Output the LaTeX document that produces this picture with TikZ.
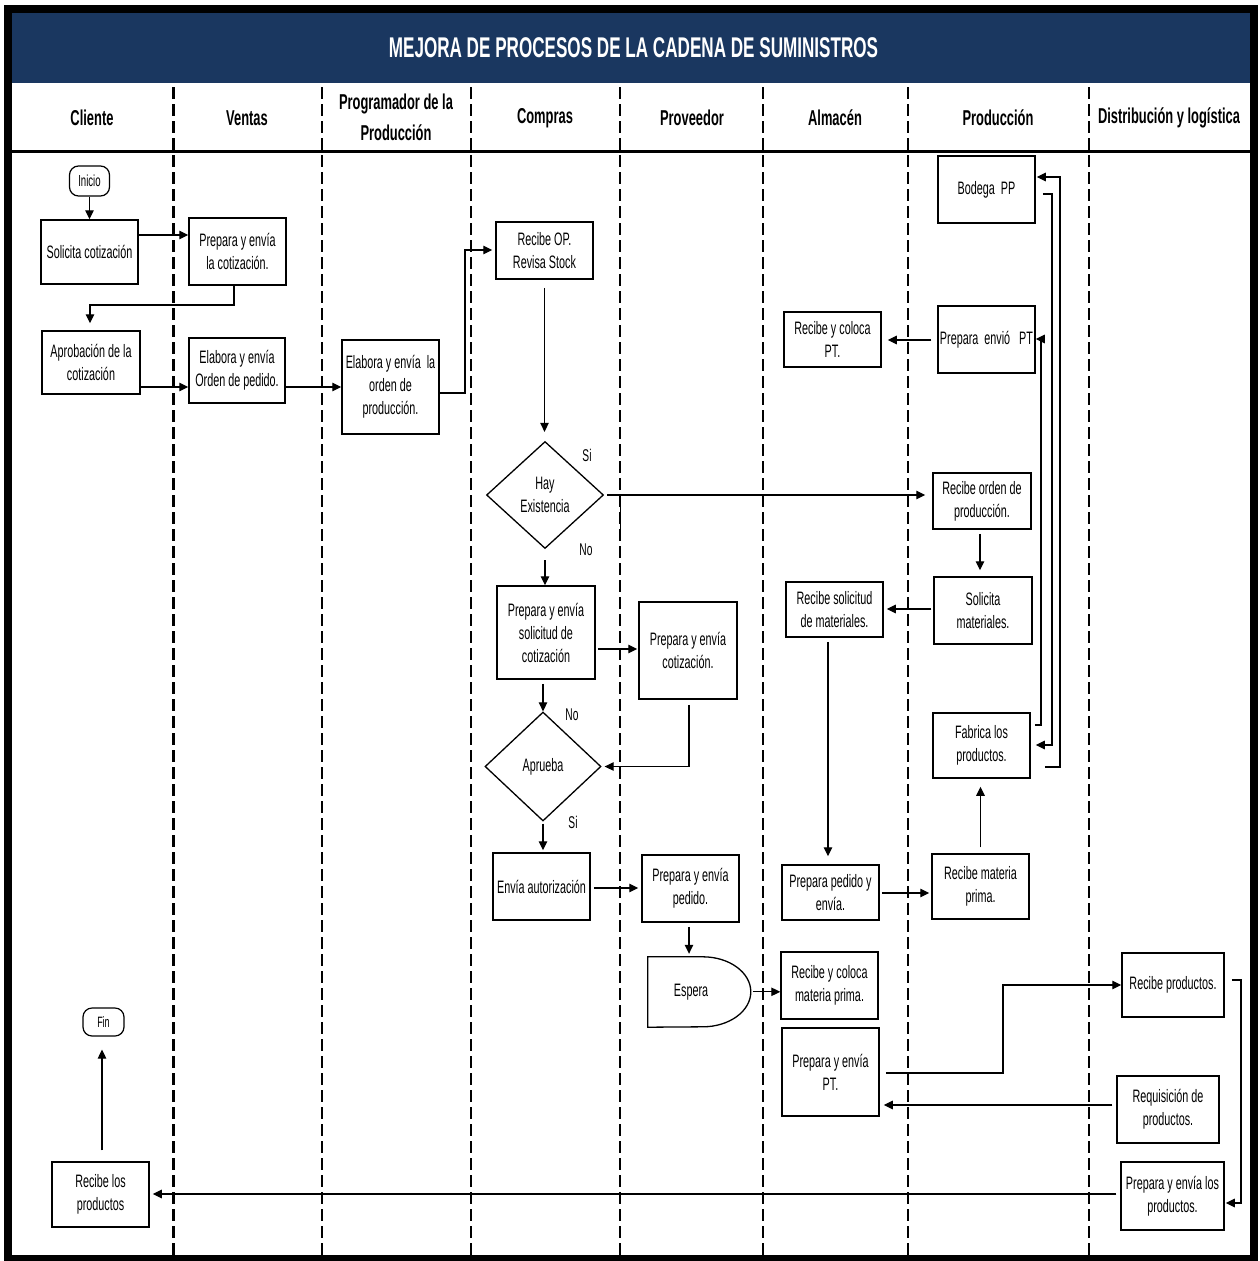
\documentclass[tikz,border=0pt]{standalone}
\usepackage{fontspec}
\newfontfamily\narrowsf{Liberation Sans}[FakeStretch=0.6]
\usetikzlibrary{arrows.meta,shapes.geometric,calc}
\definecolor{bandnavy}{HTML}{1A3760}
\newcommand\boxtxt{\narrowsf\fontsize{18}{23}\selectfont}
\newcommand\headtxt{\narrowsf\bfseries\fontsize{21.5}{31}\selectfont}

\begin{document}
\begin{tikzpicture}[x=1pt,y=-1pt,
  every node/.style={font=\boxtxt, align=center, inner sep=1pt},
  box/.style={draw, line width=1.5pt, minimum width=97pt},
  decision/.style={draw, diamond, line width=1.3pt, inner sep=0pt, aspect=1.08},
  terminal/.style={draw, rounded corners=9pt, line width=1.2pt, inner sep=0pt},
  lbl/.style={font=\narrowsf\fontsize{17}{20}\selectfont},
  conn/.style={line width=1.2pt},
  arr/.style={line width=1.2pt, -{Triangle[length=9pt,width=8.5pt]}},
  lane/.style={line width=2.4pt, dash pattern=on 12pt off 5pt},
]
\useasboundingbox (0,0) rectangle (1259,1261);
\fill[white] (0,0) rectangle (1259,1261);

% title band and header row
\fill[bandnavy] (12,12) rectangle (1250,83);
\node[text=white, font=\narrowsf\bfseries\fontsize{28.5}{32}\selectfont] (title) at (633.5,48)
  {MEJORA DE PROCESOS DE LA CADENA DE SUMINISTROS};
\draw[line width=3pt] (12,151.5) -- (1250,151.5);

% swimlane dividers
\foreach \lx in {173.5,322,471,620,763,908,1089}
  \draw[lane] (\lx,87) -- (\lx,1257);
\draw[line width=1pt] (620,505) -- (620,540);

% lane titles
\node[font=\headtxt] (hCliente) at (92,118) {Cliente};
\node[font=\headtxt] (hVentas) at (247,118) {Ventas};
\node[font=\headtxt] (hProg) at (396,117.5) {Programador de la\\Producción};
\node[font=\headtxt] (hCompras) at (545,118) {Compras};
\node[font=\headtxt] (hProv) at (692,118) {Proveedor};
\node[font=\headtxt] (hAlm) at (835,118) {Almacén};
\node[font=\headtxt] (hProd) at (998,118) {Producción};
\node[font=\headtxt] (hDist) at (1169,118) {Distribución y logística};

% Cliente
\node[terminal, minimum width=40pt, minimum height=30pt, font=\narrowsf\fontsize{16}{18}\selectfont] (inicio) at (89.5,181) {Inicio};
\node[box, minimum height=64pt] (solcot) at (89.5,252) {Solicita cotización};
\node[box, minimum width=98pt, minimum height=63pt] (aprob) at (91,362.5) {Aprobación de la\\cotización};
\node[terminal, minimum width=41pt, minimum height=28pt, font=\narrowsf\fontsize{15}{17}\selectfont] (fin) at (103.5,1022) {Fin};
\node[box, minimum height=65pt] (reclos) at (100.5,1194.5) {Recibe los\\productos};

% Ventas
\node[box, minimum height=67pt] (prepcot) at (237.5,251.5) {Prepara y envía\\la cotización.};
\node[box, minimum width=96pt, minimum height=65pt] (elabop) at (237,370.5) {Elabora y envía\\Orden de pedido.};

% Programador de la produccion
\node[box, minimum height=94pt] (elabprod) at (390.5,387) {Elabora y envía~ la\\orden de\\producción.};

% Compras
\node[box, minimum height=57pt] (recop) at (544.5,250.5) {Recibe OP.\\Revisa Stock};
\node[decision, minimum width=117pt, minimum height=107pt] (hay) at (545,495) {Hay\\Existencia};
\node[box, minimum width=98pt, minimum height=93pt] (solic) at (546,632.5) {Prepara y envía\\solicitud de\\cotización};
\node[decision, minimum width=116pt, minimum height=109pt] (aprueba) at (543,766.5) {Aprueba};
\node[box, minimum height=67pt] (envaut) at (541.5,886.5) {Envía autorización};
\node[lbl] (siA) at (587,455) {Si};
\node[lbl] (noA) at (586,550) {No};
\node[lbl] (noB) at (572,715) {No};
\node[lbl] (siB) at (573,822) {Si};

% Proveedor
\node[box, minimum width=98pt, minimum height=97pt] (prepcot2) at (688,650.5) {Prepara y envía\\cotización.};
\node[box, minimum height=67pt] (preped) at (690.5,888.5) {Prepara y envía\\pedido.};
\node[minimum width=86pt, minimum height=70pt] (espera) at (691,992) {Espera};
\draw[line width=1.3pt] (espera.north west) -- ($(espera.north west)+(55,0)$)
  arc[start angle=-90, end angle=0, x radius=48, y radius=35] coordinate (esperaR)
  arc[start angle=0, end angle=90, x radius=48, y radius=35] -- (espera.south west) -- cycle;

% Almacen
\node[box, minimum height=55pt] (recPT) at (832.5,339.5) {Recibe y coloca\\PT.};
\node[box, minimum height=55pt] (recsol) at (834.5,609.5) {Recibe solicitud\\de materiales.};
\node[box, minimum height=55pt] (prepedenv) at (830.5,892.5) {Prepara pedido y\\envía.};
\node[box, minimum height=67pt] (recmp) at (829.5,985.5) {Recibe y coloca\\materia prima.};
\node[box, minimum height=88pt] (prepPT) at (830.5,1072) {Prepara y envía\\PT.};

% Produccion
\node[box, minimum height=67pt] (bodega) at (986.5,189.5) {Bodega~ PP};
\node[box, minimum height=67pt] (prepenv) at (986.5,339.5) {Prepara~ envió~~ PT};
\node[box, minimum width=98pt, minimum height=56pt] (recorden) at (982,501) {Recibe orden de\\producción.};
\node[box, minimum width=98pt, minimum height=67pt] (solmat) at (983,610.5) {Solicita\\materiales.};
\node[box, minimum height=65pt] (fab) at (981.5,745.5) {Fabrica los\\productos.};
\node[box, minimum height=65pt] (recmat) at (980.5,886.5) {Recibe materia\\prima.};

% Distribucion y logistica
\node[box, minimum width=102pt, minimum height=64pt] (recprod) at (1173,985) {Recibe productos.};
\node[box, minimum width=102pt, minimum height=67pt] (requis) at (1168,1109.5) {Requisición de\\productos.};
\node[box, minimum width=103pt, minimum height=68pt] (prepprod) at (1172.5,1196) {Prepara y envía los\\productos.};

% connectors
\draw[arr] (inicio.south) -- (solcot.north);
\draw[arr] (solcot.east |- 0,235) -- (prepcot.west |- 0,235);
\draw[arr, shorten >=7pt] (prepcot.south -| 234,0) -- (234,305) -- (90,305) -- (aprob.north -| 90,0);
\draw[arr] (aprob.east |- 0,387) -- (elabop.west |- 0,387);
\draw[arr] (elabop.east |- 0,387) -- (elabprod.west |- 0,387);
\draw[arr, shorten >=3pt] (elabprod.east |- 0,393) -- (465,393) -- (465,250) -- (recop.west |- 0,250);
\draw[arr, shorten <=8pt, shorten >=9pt] (recop.south) -- (recop.south |- hay.north);
\draw[arr, shorten <=3pt, shorten >=7pt] (hay.east) -- (recorden.west |- hay.east);
\draw[arr, shorten <=11pt] (hay.south) -- (hay.south |- solic.north);
\draw[arr, shorten <=2pt, shorten >=1pt] (solic.east |- 0,649) -- (prepcot2.west |- 0,649);
\draw[arr, shorten <=4pt] (aprueba.north |- solic.south) -- (aprueba.north);
\draw[arr, shorten <=5pt, shorten >=3pt] (prepcot2.south -| 689,0) |- (aprueba.east);
\draw[arr, shorten <=2pt, shorten >=2pt] (aprueba.south) -- (aprueba.south |- envaut.north);
\draw[arr, shorten <=3pt, shorten >=3pt] (envaut.east |- 0,888) -- (preped.west |- 0,888);
\draw[arr, shorten <=4pt, shorten >=3pt] (preped.south -| 689,0) -- (espera.north -| 689,0);
\draw[arr, shorten <=2pt] (esperaR) -- (recmp.west |- esperaR);
\draw[arr, shorten <=4pt, shorten >=8pt] (recsol.south -| 828,0) -- (prepedenv.north -| 828,0);
\draw[arr, shorten <=2pt, shorten >=2pt] (prepedenv.east |- 0,893) -- (recmat.west |- 0,893);
\draw[arr, shorten <=6pt, shorten >=8pt] (recmat.north) -- (recmat.north |- fab.south);
\draw[arr, shorten <=4pt, shorten >=6pt] (recorden.south -| 980,0) -- (solmat.north -| 980,0);
\draw[arr, shorten <=2pt, shorten >=3pt] (solmat.west |- 0,609) -- (recsol.east |- 0,609);
\draw[arr, shorten <=6pt, shorten >=6pt] (prepenv.west |- 0,340) -- (recPT.east |- 0,340);
\draw[arr] (fab.east |- 0,725) ++(4,0) -- (1041,725) -- (1041,339) -- (prepenv.east |- 0,339);
\draw[arr, shorten >=5pt] (bodega.east |- 0,194) ++(7,0) -- (1052,194) -- (1052,745) -- (fab.east |- 0,745);
\draw[arr, shorten >=1pt] (fab.east |- 0,767) ++(14,0) -- (1060,767) -- (1060,177) -- (bodega.east |- 0,177);
\draw[arr] (prepPT.east |- 0,1073) ++(6,0) -- (1003,1073) -- (1003,985) -- (recprod.west |- 0,985);
\draw[arr, shorten <=4pt, shorten >=4pt] (requis.west |- 0,1105) -- (prepPT.east |- 0,1105);
\draw[arr, shorten >=1pt] (recprod.east |- 0,980) ++(7,0) -- (1241,980) -- (1241,1203) -- (prepprod.east |- 0,1203);
\draw[arr, shorten <=4pt, shorten >=3pt] (prepprod.west |- 0,1194) -- (reclos.east |- 0,1194);
\draw[arr, shorten <=11pt, shorten >=13pt] (reclos.north -| 102,0) -- (fin.south -| 102,0);

% outer frame
\draw[line width=8pt] (8,8.5) rectangle (1254,1258.5);
\end{tikzpicture}
\end{document}
